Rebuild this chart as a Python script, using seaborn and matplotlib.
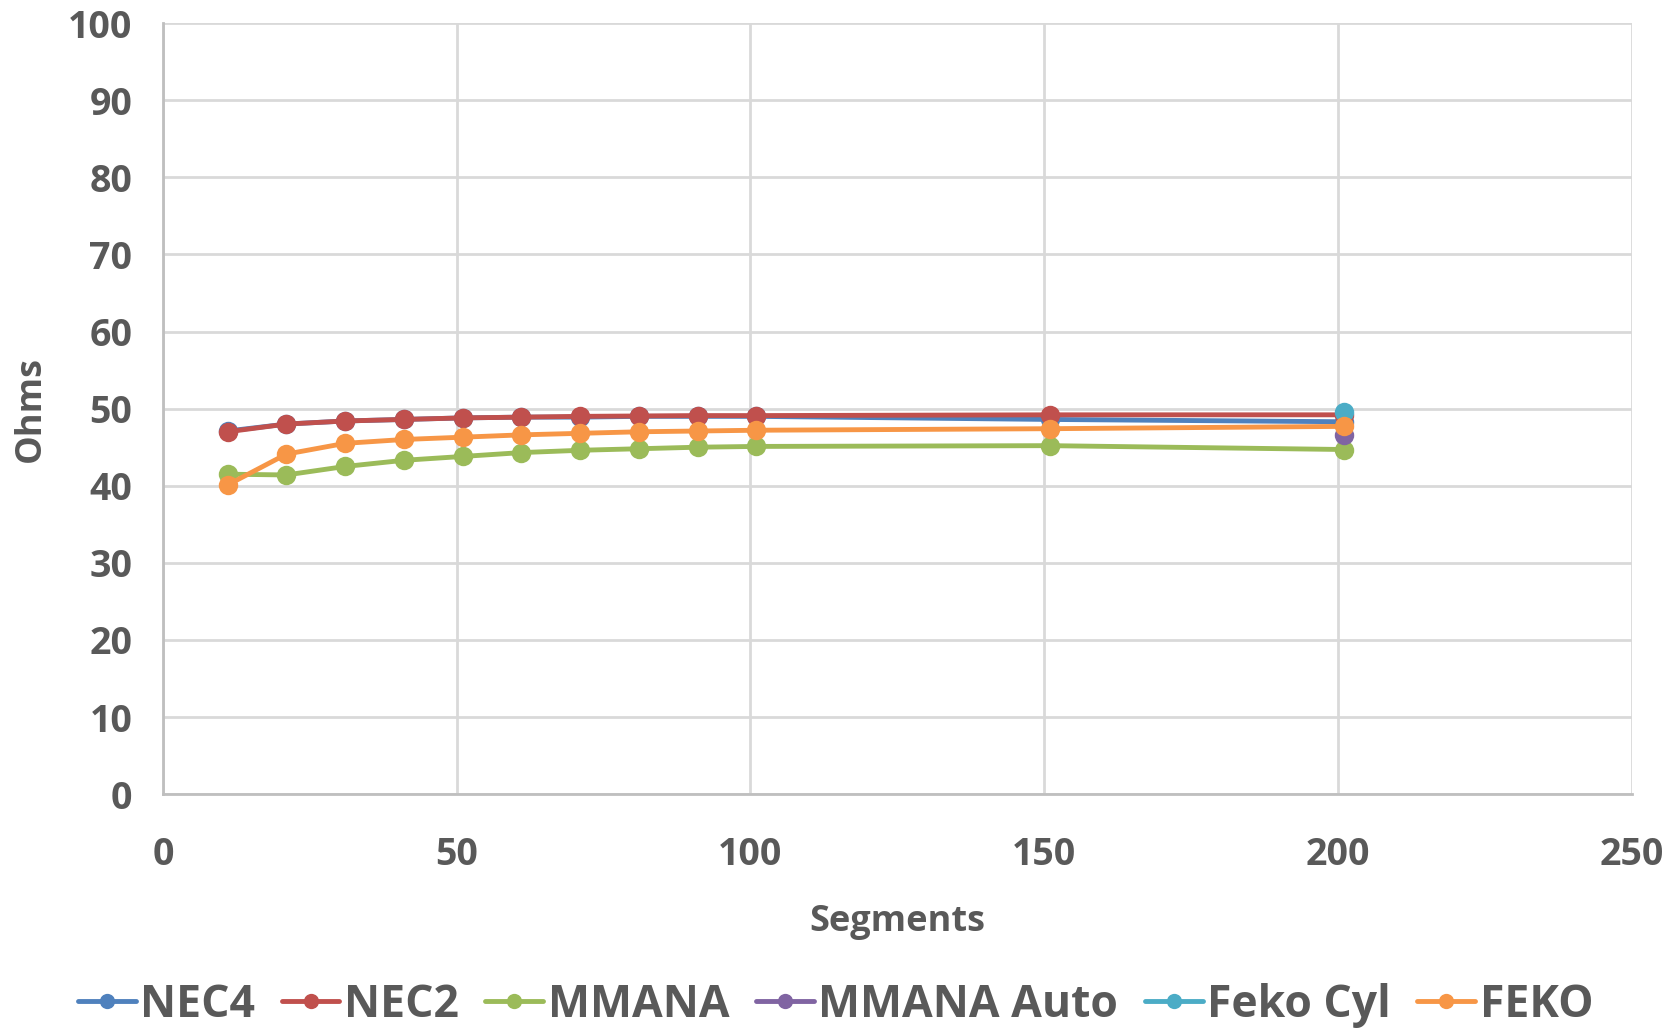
import matplotlib
matplotlib.use("Agg")
import matplotlib.pyplot as plt
import seaborn as sns
import pandas as pd
from matplotlib.lines import Line2D

segments = [11, 21, 31, 41, 51, 61, 71, 81, 91, 101, 151, 201]
nec4 = [47.1, 48.0, 48.4, 48.6, 48.8, 48.9, 48.9, 49.0, 49.0, 49.0, 48.6, 48.3]
nec2 = [47.0, 48.0, 48.4, 48.6, 48.8, 48.9, 49.0, 49.05, 49.1, 49.1, 49.2, 49.2]
mmana = [41.5, 41.4, 42.5, 43.3, 43.8, 44.3, 44.6, 44.8, 45.0, 45.1, 45.2, 44.7]
mmana_auto_x = [201]
mmana_auto = [46.6]
feko_cyl_x = [201]
feko_cyl = [49.6]
feko = [40.1, 44.1, 45.5, 46.0, 46.3, 46.6, 46.8, 47.0, 47.1, 47.2, 47.4, 47.7]

series_names = ["NEC4", "NEC2", "MMANA", "MMANA Auto", "Feko Cyl", "FEKO"]
colors = ["#4F81BD", "#C0504D", "#9BBB59", "#8064A2", "#4BACC6", "#F79646"]

frames = [
    pd.DataFrame({"Segments": segments, "Ohms": nec4, "Series": "NEC4"}),
    pd.DataFrame({"Segments": segments, "Ohms": nec2, "Series": "NEC2"}),
    pd.DataFrame({"Segments": segments, "Ohms": mmana, "Series": "MMANA"}),
    pd.DataFrame({"Segments": mmana_auto_x, "Ohms": mmana_auto, "Series": "MMANA Auto"}),
    pd.DataFrame({"Segments": feko_cyl_x, "Ohms": feko_cyl, "Series": "Feko Cyl"}),
    pd.DataFrame({"Segments": segments, "Ohms": feko, "Series": "FEKO"}),
]
df = pd.concat(frames, ignore_index=True)

sns.set_style("white")
plt.rcParams['font.family'] = ['Open Sans', 'DejaVu Sans']
text_color = "#595959"

fig = plt.figure(figsize=(16.71, 10.30), dpi=100)
ax = fig.add_axes([0.0975, 0.229, 0.879, 0.7485])

sns.lineplot(data=df, x="Segments", y="Ohms", hue="Series", hue_order=series_names,
             palette=colors, marker="o", markersize=14, markeredgewidth=0,
             linewidth=3.5, ax=ax, legend=False, sort=True)

ax.set_xlim(0, 250)
ax.set_ylim(0, 100)
ax.set_xticks(range(0, 251, 50))
ax.set_yticks(range(0, 101, 10))
ax.grid(True, color="#D9D9D9", linewidth=2)
ax.set_axisbelow(True)
for s in ["top", "right"]:
    ax.spines[s].set_visible(False)
for s in ["left", "bottom"]:
    ax.spines[s].set_color("#BFBFBF")
    ax.spines[s].set_linewidth(2)
ax.tick_params(axis="both", length=0, labelsize=27, labelcolor=text_color)
ax.tick_params(axis="x", pad=30)
ax.tick_params(axis="y", pad=22)
for lbl in ax.get_xticklabels() + ax.get_yticklabels():
    lbl.set_fontweight("bold")
ax.set_xlabel("Segments", fontsize=26, fontweight="bold", color=text_color, labelpad=22)
ax.set_ylabel("Ohms", fontsize=26, fontweight="bold", color=text_color, labelpad=14)

handles = [Line2D([0], [0], color=c, linewidth=3.5, marker="o", markersize=11,
                  markeredgewidth=0) for c in colors]
leg = fig.legend(handles, series_names, loc="center", bbox_to_anchor=(0.5, 0.024),
                 ncol=6, frameon=False, handlelength=1.3, handletextpad=0.1,
                 columnspacing=0.6, prop={"size": 32, "weight": "bold"})
for t in leg.get_texts():
    t.set_color(text_color)

fig.savefig("out.png", dpi=100)
